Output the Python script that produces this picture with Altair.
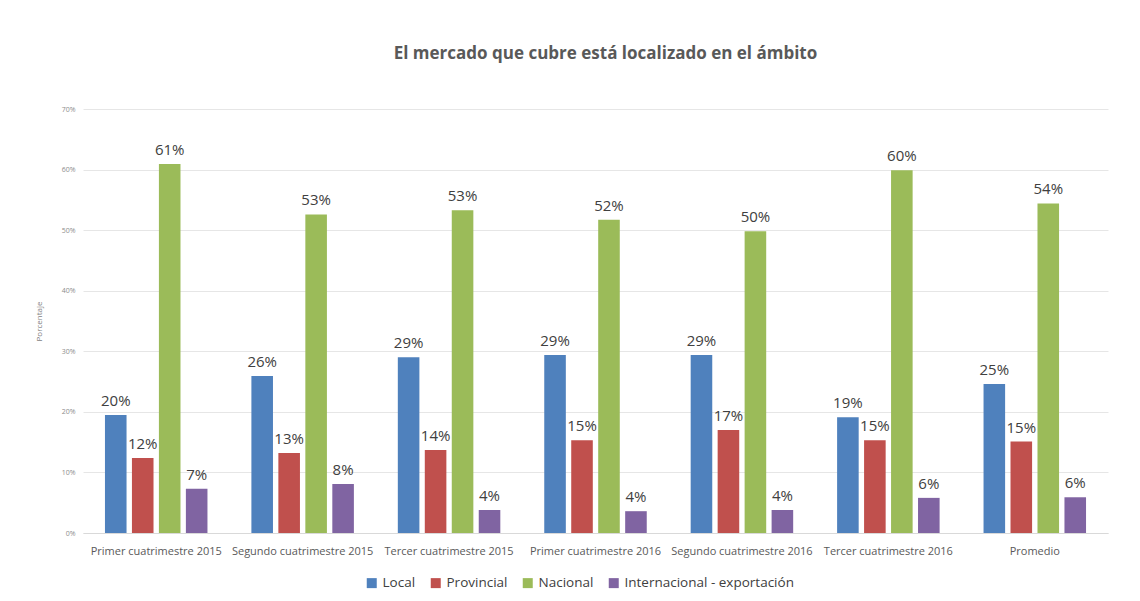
import altair as alt
import pandas as pd

periods = [
    "Primer cuatrimestre 2015",
    "Segundo cuatrimestre 2015",
    "Tercer cuatrimestre 2015",
    "Primer cuatrimestre 2016",
    "Segundo cuatrimestre 2016",
    "Tercer cuatrimestre 2016",
    "Promedio",
]
series = ["Local", "Provincial", "Nacional", "Internacional - exportación"]
local = [0.195, 0.259, 0.290, 0.294, 0.294, 0.191, 0.246]
provincial = [0.124, 0.132, 0.137, 0.153, 0.170, 0.153, 0.151]
nacional = [0.609, 0.526, 0.533, 0.517, 0.498, 0.599, 0.544]
internacional = [0.073, 0.081, 0.038, 0.036, 0.038, 0.058, 0.059]
colors = ["#4F81BD", "#C0504D", "#9BBB59", "#8064A2"]

rows = []
for name, vals in zip(series, [local, provincial, nacional, internacional]):
    for p, v in zip(periods, vals):
        rows.append({"Periodo": p, "Serie": name, "Valor": v})
df = pd.DataFrame(rows)

FONT = "Open Sans"

x = alt.X("Periodo:N", sort=periods, title=None,
          scale=alt.Scale(paddingInner=0.3, paddingOuter=0.15),
          axis=alt.Axis(labelAngle=0, labelFontSize=11, labelColor="#595959",
                        labelFont=FONT, ticks=False, domainColor="#D9D9D9",
                        labelPadding=12, labelLimit=300))
xo = alt.XOffset("Serie:N", sort=series, scale=alt.Scale(paddingInner=0.2, paddingOuter=0))
y = alt.Y("Valor:Q", title="Porcentaje",
          scale=alt.Scale(domain=[0, 0.7]),
          axis=alt.Axis(format=".0%", values=[0, 0.1, 0.2, 0.3, 0.4, 0.5, 0.6, 0.7],
                        labelFontSize=7, labelColor="#8C8C8C", labelFont=FONT,
                        domain=False, ticks=False, gridColor="#E6E6E6",
                        labelPadding=8, titleFontSize=8, titleFontWeight="normal",
                        titleColor="#7F7F7F", titleFont=FONT, titlePadding=18))

color = alt.Color("Serie:N", sort=series,
                  scale=alt.Scale(domain=series, range=colors),
                  legend=alt.Legend(title=None, orient="none", direction="horizontal",
                                    legendX=282, legendY=467,
                                    symbolType="square", symbolSize=100,
                                    symbolStrokeWidth=0,
                                    labelFontSize=13.5, labelColor="#404040",
                                    labelFont=FONT, columnPadding=13,
                                    labelLimit=400))

bars = alt.Chart(df).mark_bar().encode(x=x, xOffset=xo, y=y, color=color)
labels = alt.Chart(df).mark_text(dy=-14, fontSize=15, color="#404040", font=FONT).encode(
    x=x, xOffset=xo, y=y, text=alt.Text("Valor:Q", format=".0%"))

chart = alt.layer(bars, labels).properties(
    width=1025, height=424,
    title=alt.TitleParams("El mercado que cubre está localizado en el ámbito",
                          fontSize=17, font=FONT, fontWeight="bold", color="#595959",
                          offset=42, dx=10),
    autosize=alt.AutoSizeParams(type="none"),
    padding={"left": 75, "top": 101, "right": 20, "bottom": 70},
).configure_view(stroke=None)

chart.save("out.html", embed_options={"renderer": "svg", "actions": False})
